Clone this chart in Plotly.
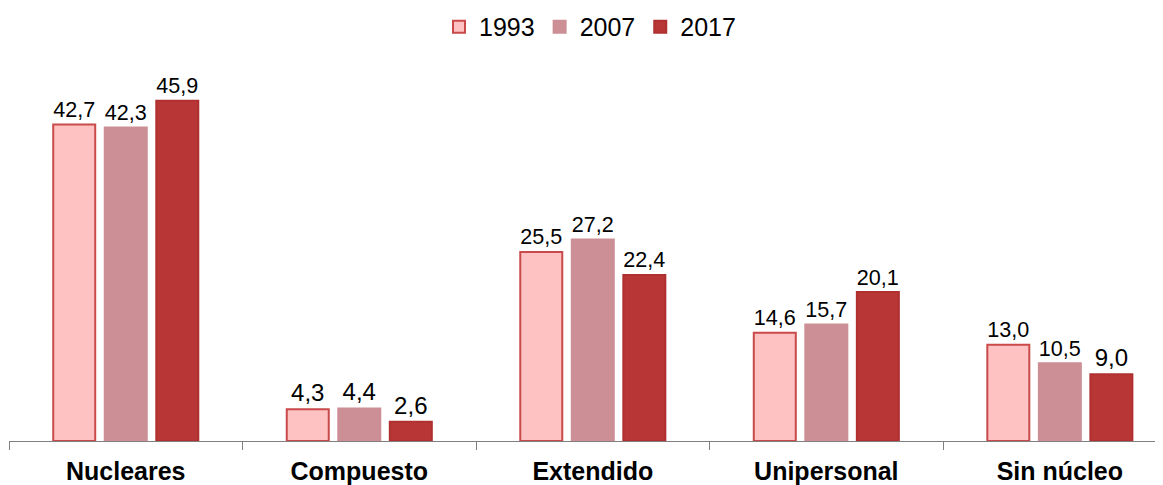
import plotly.graph_objects as go

# datos
categorias = ["Nucleares", "Compuesto", "Extendido", "Unipersonal", "Sin núcleo"]
anios = ["1993", "2007", "2017"]
v1993 = [42.7, 4.3, 25.5, 14.6, 13.0]
v2007 = [42.3, 4.4, 27.2, 15.7, 10.5]
v2017 = [45.9, 2.6, 22.4, 20.1, 9.0]

colores = ["#FFC2C2", "#CC8F95", "#B83636"]
bordes = ["#C84A4A", "#CC8F95", "#B03030"]

x = list(range(len(categorias)))

fig = go.Figure()
for nombre, valores, c, b in zip(anios, [v1993, v2007, v2017], colores, bordes):
    fig.add_trace(go.Bar(
        x=x, y=valores, name=nombre,
        marker=dict(color=c, line=dict(color=b, width=2)),
        texttemplate="%{y:.1f}", textposition="outside",
        textfont=dict(size=24, color="black"),
        cliponaxis=False,
    ))

# la página tiene 8px de margen en body, se compensa en los márgenes
fig.update_layout(
    width=1163, height=485,
    paper_bgcolor="white", plot_bgcolor="white",
    separators=",.",
    font=dict(family="Liberation Sans, Arial", color="black"),
    barmode="group", bargap=0.338, bargroupgap=0.185,
    margin=dict(l=1, r=0, t=52, b=52),
    legend=dict(orientation="h", x=0.5, xanchor="center", y=0.961, yanchor="middle",
                yref="container", font=dict(size=25), itemwidth=30,
                traceorder="normal"),
    showlegend=True,
)

fig.update_xaxes(
    range=[-0.5, 4.476],
    tickvals=x, ticktext=["<b>" + c + "</b>" for c in categorias],
    tickfont=dict(size=25), ticks="", ticklabelstandoff=8,
    showgrid=False, zeroline=False,
    showline=True, linecolor="#808080", linewidth=1,
    minor=dict(tickvals=[-0.5, 0.5, 1.5, 2.5, 3.5, 4.5], ticks="outside",
               ticklen=8, tickcolor="#808080", tickwidth=1, showgrid=False),
)
fig.update_yaxes(range=[0, 51.4], visible=False)

fig.write_html("out.html")
